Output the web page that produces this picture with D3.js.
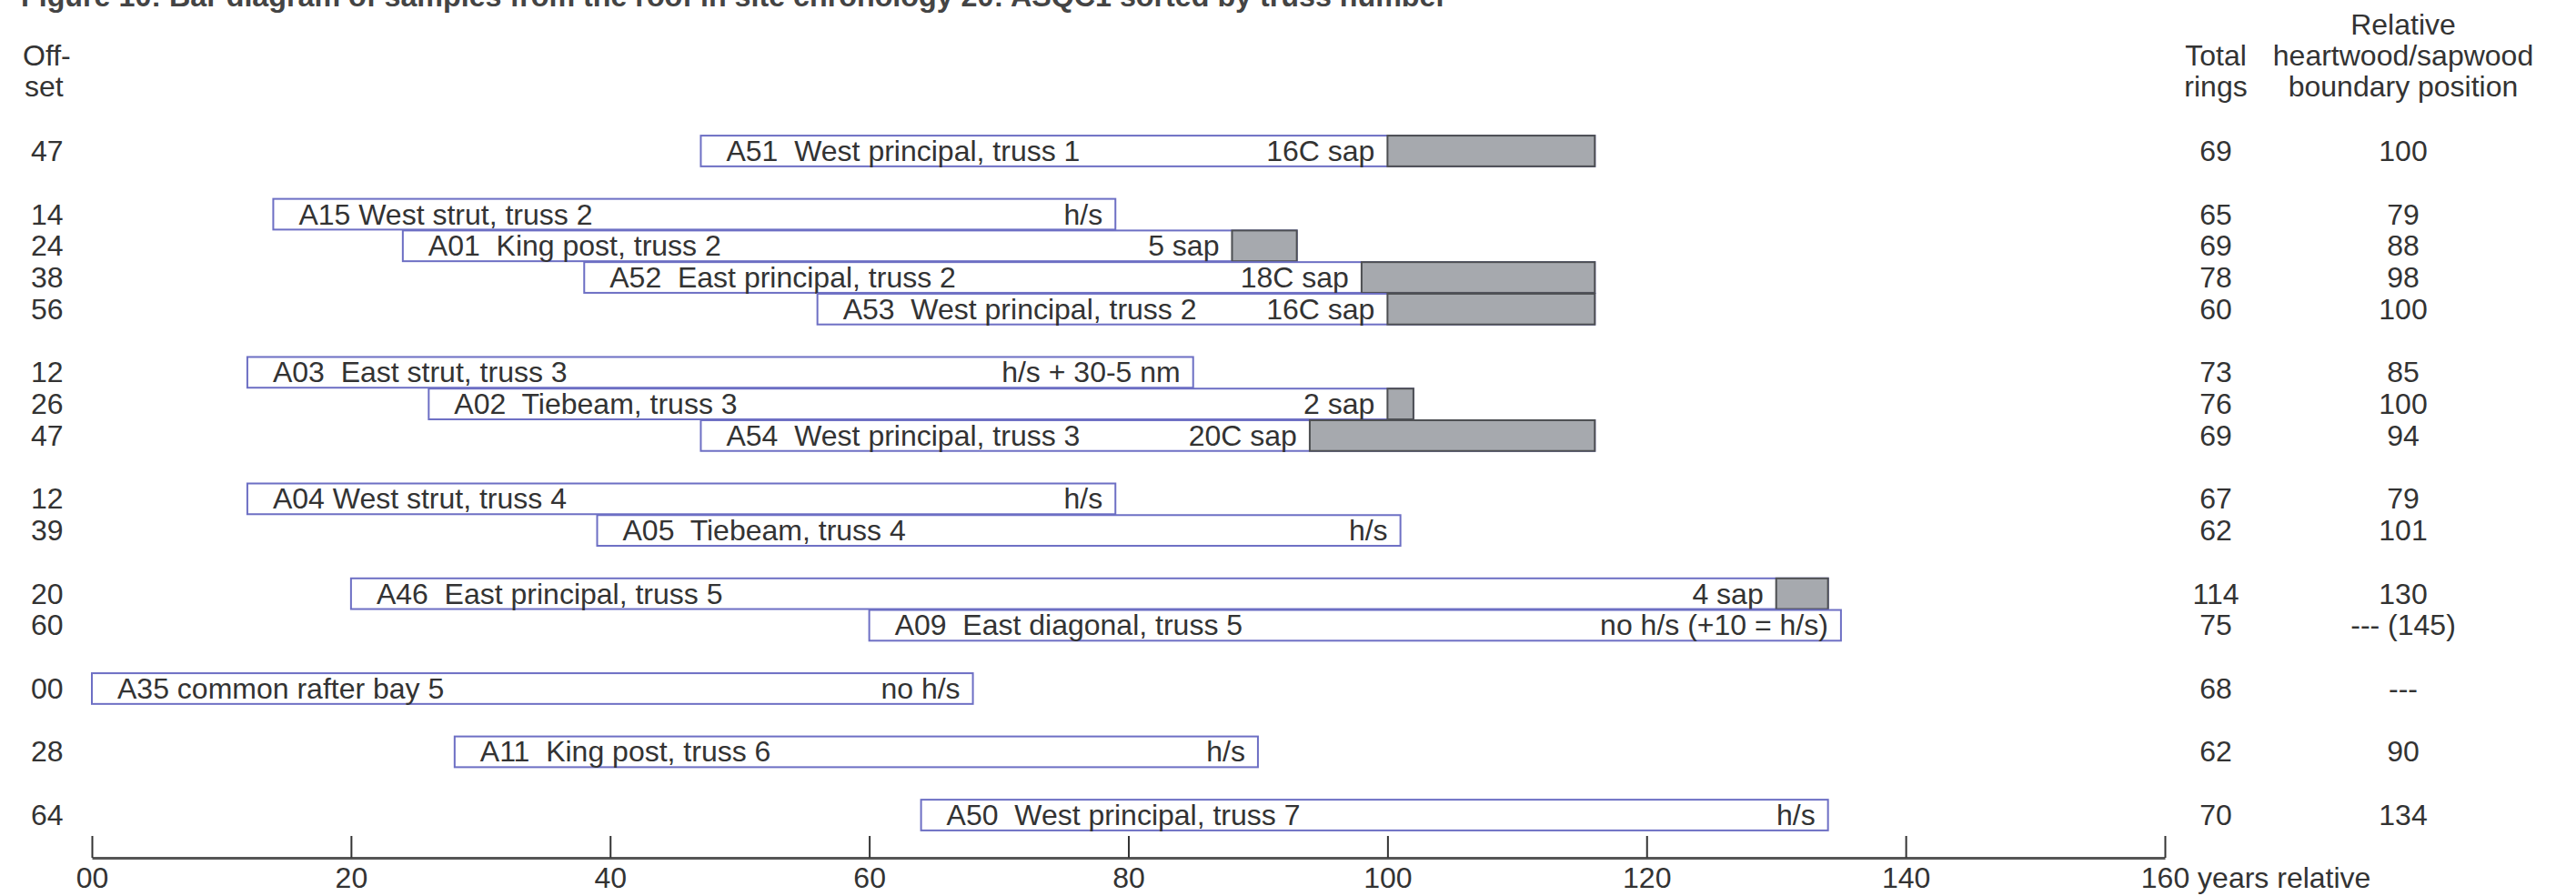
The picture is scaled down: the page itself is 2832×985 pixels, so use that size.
<!DOCTYPE html>
<html>
<head>
<meta charset="utf-8">
<script src="https://cdn.jsdelivr.net/npm/d3@7"></script>
<style>
  html, body { margin: 0; padding: 0; background: #fff; }
  svg { display: block; }
  text { font-family: "Liberation Sans", Arial, Helvetica, sans-serif; fill: #333; }
</style>
</head>
<body>
<svg id="chart" width="2832" height="985"></svg>
<script>
// Samples from the roof, in truss order
const labels = [
  "A51  West principal, truss 1",
  "A15 West strut, truss 2",
  "A01  King post, truss 2",
  "A52  East principal, truss 2",
  "A53  West principal, truss 2",
  "A03  East strut, truss 3",
  "A02  Tiebeam, truss 3",
  "A54  West principal, truss 3",
  "A04 West strut, truss 4",
  "A05  Tiebeam, truss 4",
  "A46  East principal, truss 5",
  "A09  East diagonal, truss 5",
  "A35 common rafter bay 5",
  "A11  King post, truss 6",
  "A50  West principal, truss 7"
];
const groups = ["t1", "t2", "t2", "t2", "t2", "t3", "t3", "t3", "t4", "t4", "t5", "t5", "bay5", "t6", "t7"];
const endNotes = ["16C sap", "h/s", "5 sap", "18C sap", "16C sap", "h/s + 30-5 nm", "2 sap", "20C sap",
                  "h/s", "h/s", "4 sap", "no h/s (+10 = h/s)", "no h/s", "h/s", "h/s"];
const offsets = [47, 14, 24, 38, 56, 12, 26, 47, 12, 39, 20, 60, 0, 28, 64];
const totalRings = [69, 65, 69, 78, 60, 73, 76, 69, 67, 62, 114, 75, 68, 62, 70];
// heartwood/sapwood boundary, relative year (null where not present)
const hsBoundary = [100, 79, 88, 98, 100, 85, 100, 94, 79, 101, 130, null, null, 90, 134];
const estimatedBoundary = [null, null, null, null, null, null, null, null, null, null, null, 145, null, null, null];
const xTicks = [0, 20, 40, 60, 80, 100, 120, 140, 160];

const svg = d3.select("#chart");
const FS = 32;

// slot index per sample, one empty slot between groups
let slot = -1;
const slots = groups.map((g, i) => {
  slot += (i > 0 && g !== groups[i - 1]) ? 2 : 1;
  return slot;
});
const nSlots = slot + 1;

const x = d3.scaleLinear().domain([0, 160]).range([101, 2380]);
const y = d3.scaleBand().domain(d3.range(nSlots)).range([148.6, 913.4]).paddingInner(0);
const bh = y.bandwidth();

const rows = labels.map((label, i) => ({
  label,
  note: endNotes[i],
  offset: offsets[i],
  rings: totalRings[i],
  end: offsets[i] + totalRings[i],
  hs: hsBoundary[i],
  est: estimatedBoundary[i],
  slot: slots[i]
}));

// Title (runs off the top edge)
svg.append("text")
  .attr("x", 23).attr("y", 7)
  .attr("textLength", 1568).attr("lengthAdjust", "spacingAndGlyphs")
  .style("font-weight", "bold").style("font-size", FS + "px").style("fill", "#444")
  .text("Figure 10: Bar diagram of samples from the roof in site chronology 20: ASQC1 sorted by truss number");

// Column headers
const hdr = svg.append("g").style("font-size", FS + "px");
hdr.append("text").attr("x", 25).attr("y", 72).text("Off-");
hdr.append("text").attr("x", 27).attr("y", 106).text("set");
hdr.append("text").attr("x", 2436).attr("y", 72).attr("text-anchor", "middle").text("Total");
hdr.append("text").attr("x", 2436).attr("y", 106).attr("text-anchor", "middle").text("rings");
hdr.append("text").attr("x", 2642).attr("y", 38).attr("text-anchor", "middle").text("Relative");
hdr.append("text").attr("x", 2642).attr("y", 72).attr("text-anchor", "middle").text("heartwood/sapwood");
hdr.append("text").attr("x", 2642).attr("y", 106).attr("text-anchor", "middle").text("boundary position");

// Bars
const row = svg.append("g").selectAll("g.row").data(rows).join("g").attr("class", "row");

row.append("rect")
  .attr("x", d => x(d.offset))
  .attr("y", d => y(d.slot) + 0.5)
  .attr("width", d => x(d.end) - x(d.offset))
  .attr("height", bh - 1)
  .attr("fill", "#fff")
  .attr("stroke", "#6d6fc4")
  .attr("stroke-width", 2);

row.filter(d => d.hs !== null && d.hs < d.end).append("rect")
  .attr("x", d => x(d.hs))
  .attr("y", d => y(d.slot) + 0.5)
  .attr("width", d => x(d.end) - x(d.hs))
  .attr("height", bh - 1)
  .attr("fill", "#a6a9ae")
  .attr("stroke", "#4d4f52")
  .attr("stroke-width", 2);

row.append("text")
  .attr("x", d => x(d.offset) + 28)
  .attr("y", d => y(d.slot) + bh / 2 + 11)
  .style("font-size", FS + "px")
  .style("white-space", "pre")
  .text(d => d.label);

row.append("text")
  .attr("x", d => x(d.hs !== null ? Math.min(d.hs, d.end) : d.end) - 14)
  .attr("y", d => y(d.slot) + bh / 2 + 11)
  .attr("text-anchor", "end")
  .style("font-size", FS + "px")
  .text(d => d.note);

// Offset, total rings and boundary columns
const fmt2 = d3.format("02d");
row.append("text")
  .attr("x", 34)
  .attr("y", d => y(d.slot) + bh / 2 + 11)
  .style("font-size", FS + "px")
  .text(d => fmt2(d.offset));

row.append("text")
  .attr("x", 2436)
  .attr("y", d => y(d.slot) + bh / 2 + 11)
  .attr("text-anchor", "middle")
  .style("font-size", FS + "px")
  .text(d => d.rings);

row.append("text")
  .attr("x", 2642)
  .attr("y", d => y(d.slot) + bh / 2 + 11)
  .attr("text-anchor", "middle")
  .style("font-size", FS + "px")
  .text(d => d.hs !== null ? d.hs : "---" + (d.est !== null ? " (" + d.est + ")" : ""));

// Axis of relative years
const axis = d3.axisBottom(x)
  .tickValues(xTicks)
  .tickFormat(v => v === 0 ? "00" : String(v))
  .tickSizeInner(-24)
  .tickSizeOuter(0)
  .tickPadding(10);

const ax = svg.append("g").attr("transform", "translate(0,943)").call(axis);
ax.select(".domain").attr("stroke", "#555").attr("stroke-width", 3);
ax.selectAll(".tick line").attr("stroke", "#333").attr("stroke-width", 2);
ax.selectAll(".tick text")
  .attr("fill", "#333")
  .style("font-size", FS + "px")
  .style("font-family", '"Liberation Sans", Arial, sans-serif');

const last = ax.selectAll(".tick text").filter(v => v === 160);
const w160 = last.node().getComputedTextLength();
last.attr("text-anchor", "start").attr("x", -w160 / 2);
last.append("tspan").text(" years relative");
</script>
</body>
</html>
